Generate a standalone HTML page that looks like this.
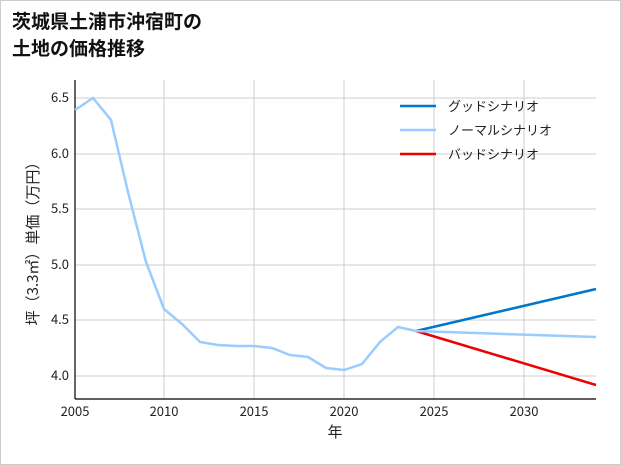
<!DOCTYPE html>
<html><head><meta charset="utf-8"><style>
html,body{margin:0;padding:0;background:#fff;}
body{width:621px;height:465px;overflow:hidden;}
svg{display:block;font-family:"Noto Sans CJK JP",sans-serif;}
</style></head><body>
<svg width="621" height="465" viewBox="0 0 621 465">
<rect x="0.5" y="0.5" width="620" height="464" fill="#fff" stroke="#ccc"/>
<text x="12" y="28" font-size="19" font-weight="bold" fill="#111">茨城県土浦市沖宿町の</text>
<text x="12" y="55" font-size="19" font-weight="bold" fill="#111">土地の価格推移</text>
<g stroke="#ccc" stroke-width="1">
<line x1="164" y1="80" x2="164" y2="399"/><line x1="254" y1="80" x2="254" y2="399"/>
<line x1="344" y1="80" x2="344" y2="399"/><line x1="434" y1="80" x2="434" y2="399"/>
<line x1="524" y1="80" x2="524" y2="399"/>
<line x1="75" y1="98" x2="596" y2="98"/><line x1="75" y1="154" x2="596" y2="154"/>
<line x1="75" y1="209" x2="596" y2="209"/><line x1="75" y1="265" x2="596" y2="265"/>
<line x1="75" y1="320" x2="596" y2="320"/><line x1="75" y1="376" x2="596" y2="376"/>
</g>
<line x1="75" y1="80" x2="75" y2="399" stroke="#000" stroke-width="1.2"/>
<line x1="75" y1="399" x2="596" y2="399" stroke="#000" stroke-width="1.2"/>
<g font-size="13" fill="#222" text-anchor="end">
<text x="69" y="102">6.5</text><text x="69" y="158">6.0</text><text x="69" y="213">5.5</text>
<text x="69" y="269">5.0</text><text x="69" y="324">4.5</text><text x="69" y="380">4.0</text>
</g>
<g font-size="13" fill="#222" text-anchor="middle">
<text x="75" y="416">2005</text><text x="164" y="416">2010</text><text x="254" y="416">2015</text>
<text x="344" y="416">2020</text><text x="434" y="416">2025</text><text x="524" y="416">2030</text>
<text x="335" y="437" font-size="15">年</text>
</g>
<text transform="translate(38,240) rotate(-90)" font-size="15" fill="#222" text-anchor="middle">坪（3.3㎡）単価（万円）</text>
<polyline fill="none" stroke="#0077cc" stroke-width="2.5" points="416,331 596,289"/>
<polyline fill="none" stroke="#ee0000" stroke-width="2.5" points="416,331 596,385"/>
<polyline fill="none" stroke="#99ccff" stroke-width="2.5" points="75,110 93,98 111,120 128,192 146,262 164,309 182,324 200,342 218,345 236,346 254,346 272,348 290,355 308,357 326,368 344,370 362,364 380,342 398,327 416,331 596,337"/>
<g font-size="13" fill="#222">
<line x1="400" y1="106" x2="436" y2="106" stroke="#0077cc" stroke-width="2.5"/><text x="448" y="111">グッドシナリオ</text>
<line x1="400" y1="130" x2="436" y2="130" stroke="#99ccff" stroke-width="2.5"/><text x="448" y="135">ノーマルシナリオ</text>
<line x1="400" y1="154" x2="436" y2="154" stroke="#ee0000" stroke-width="2.5"/><text x="448" y="159">バッドシナリオ</text>
</g>
</svg>
</body></html>
